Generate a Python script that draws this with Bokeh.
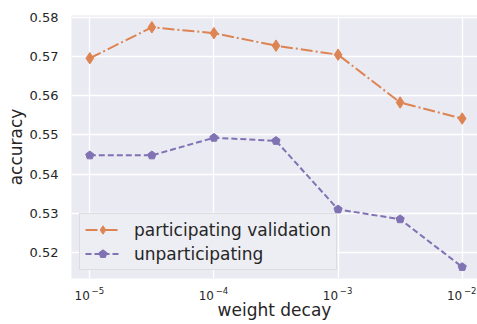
import math
from bokeh.plotting import figure
from bokeh.models import (Range1d, FixedTicker, Legend, LegendItem, ColumnDataSource,
                          LogAxis)
from bokeh.embed import file_html
from bokeh.resources import INLINE

weight_decay = [1e-5, 3.162e-5, 1e-4, 3.162e-4, 1e-3, 3.162e-3, 1e-2]
participating = [0.5696, 0.5775, 0.5760, 0.5728, 0.5705, 0.5583, 0.5542]
unparticipating = [0.5448, 0.5448, 0.5493, 0.5485, 0.5310, 0.5285, 0.5163]
x_ticks = [1e-5, 1e-4, 1e-3, 1e-2]
x_tick_base = ["10", "10", "10", "10"]
x_tick_exp = ["−5", "−4", "−3", "−2"]
y_ticks = [0.52, 0.53, 0.54, 0.55, 0.56, 0.57, 0.58]
x_title = "weight decay"
y_title = "accuracy"

ORANGE = "#DD8452"
PURPLE = "#8172B3"
TEXT = "#262626"
FONT = "DejaVu Sans"

LX0, LX1 = -5.1475, -1.8767
X0, X1 = 10 ** LX0, 10 ** LX1
Y0, Y1 = 0.51336, 0.58051
FRAME_W = 406
PX_DEC = FRAME_W / (LX1 - LX0)    # pixels per decade


def shifted(t, px):
    """tick value moved px pixels along the log x axis (for label placement)"""
    return 10 ** (math.log10(t) + px / PX_DEC)


p = figure(width=477, height=324, x_axis_type="log", output_backend="svg",
           toolbar_location=None,
           x_range=Range1d(X0, X1), y_range=Range1d(Y0, Y1),
           min_border_left=71, min_border_right=0, min_border_top=15,
           min_border_bottom=46)
p.background_fill_color = "#EAEAF2"
p.border_fill_color = "white"
p.outline_line_color = None

src = ColumnDataSource(dict(x=weight_decay, a=participating, b=unparticipating))

l1 = p.line("x", "a", source=src, line_color=ORANGE, line_width=2, line_dash="12 3 2 3")
s1 = p.scatter("x", "a", source=src, marker="diamond", size=11.5, fill_color=ORANGE,
               line_color=ORANGE)
l2 = p.line("x", "b", source=src, line_color=PURPLE, line_width=2, line_dash="6 3")
s2 = p.ngon("x", "b", source=src, radius=4.3, radius_units="screen", n=5,
            fill_color=PURPLE, line_color=PURPLE)

# second x axis (below the first) carries the "10" part of the labels and the title
base_ticks = [shifted(t, -7.65) for t in x_ticks]
exp_ticks = [shifted(t, 8.05) for t in x_ticks]
xaxis2 = LogAxis()
p.add_layout(xaxis2, "below")

axes = [p.xaxis[0], xaxis2, p.yaxis[0]]
for ax in axes:
    ax.axis_line_color = None
    ax.major_tick_line_color = None
    ax.minor_tick_line_color = None
    ax.major_tick_out = 0
    ax.major_tick_in = 0
    ax.minor_tick_out = 0
    ax.minor_tick_in = 0
    ax.major_label_text_font = FONT
    ax.major_label_text_font_size = "13px"
    ax.major_label_text_color = TEXT
    ax.axis_label_text_font = FONT
    ax.axis_label_text_font_size = "17px"
    ax.axis_label_text_font_style = "normal"
    ax.axis_label_text_color = TEXT

# first x axis: superscript exponents
xa = p.xaxis[0]
xa.ticker = FixedTicker(ticks=exp_ticks, minor_ticks=[])
xa.major_label_overrides = {t: e for t, e in zip(exp_ticks, x_tick_exp)}
xa.major_label_text_font_size = "8.5px"
xa.major_label_standoff = 8

# second x axis: base "10"
xaxis2.ticker = FixedTicker(ticks=base_ticks, minor_ticks=[])
xaxis2.major_label_overrides = {t: b for t, b in zip(base_ticks, x_tick_base)}
xaxis2.major_label_text_font_size = "12px"
xaxis2.major_label_standoff = -6
xaxis2.axis_label = x_title
xaxis2.axis_label_standoff = -3

p.yaxis.ticker = FixedTicker(ticks=y_ticks, minor_ticks=[])
p.yaxis.axis_label = y_title
p.yaxis.major_label_standoff = 13
p.yaxis.axis_label_standoff = 1

p.xgrid.ticker = FixedTicker(ticks=x_ticks, minor_ticks=[])
p.grid.grid_line_color = "white"
p.grid.grid_line_width = 1.3
p.grid.minor_grid_line_color = None

legend = Legend(items=[
    LegendItem(label="participating validation", renderers=[l1, s1]),
    LegendItem(label="unparticipating", renderers=[l2, s2]),
], location="bottom_left")
legend.margin = 8
legend.padding = 5
legend.spacing = 3
legend.glyph_width = 35
legend.glyph_height = 21
legend.label_height = 21
legend.label_standoff = 14
legend.label_text_font = FONT
legend.label_text_font_size = "17px"
legend.label_text_color = TEXT
legend.background_fill_color = "#EDEDF4"
legend.background_fill_alpha = 1.0
legend.border_line_color = "#CCCCCC"
legend.border_line_width = 1
p.add_layout(legend, "center")

open("out.html", "w").write(file_html(p, INLINE))
